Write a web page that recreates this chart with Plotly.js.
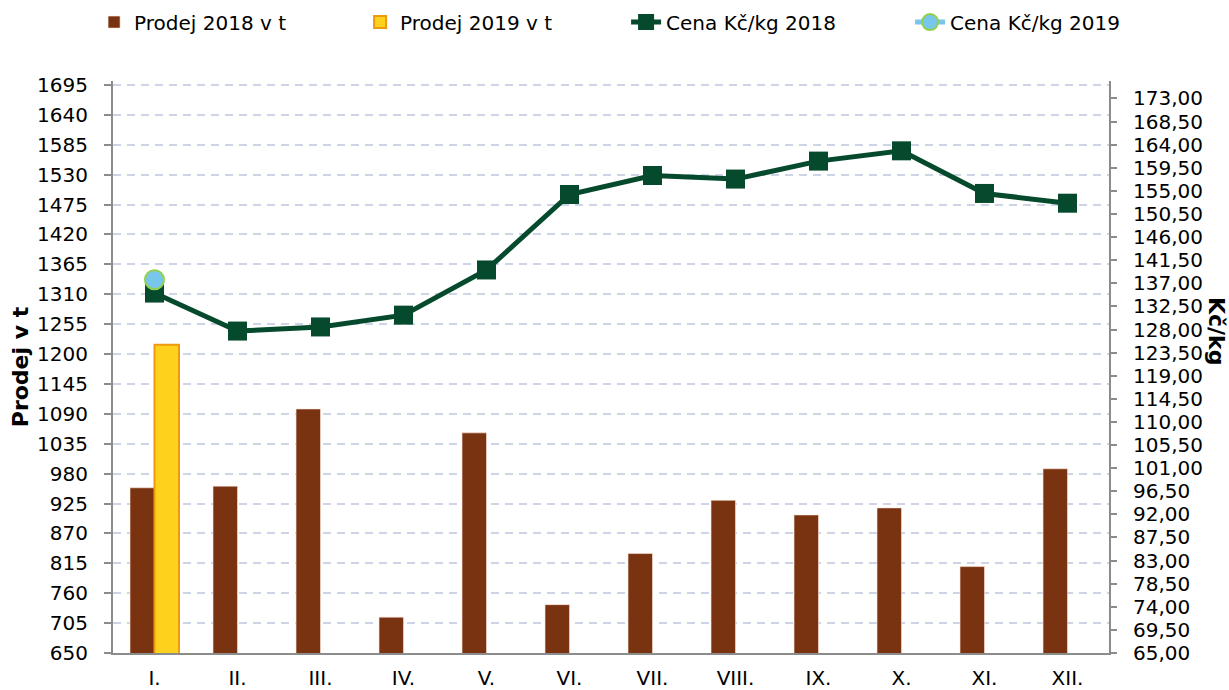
<!DOCTYPE html>
<html>
<head>
<meta charset="utf-8">
<script src="https://cdn.plot.ly/plotly-3.0.1.min.js"></script>
<style>
html,body{margin:0;padding:0;background:#ffffff;}
#chart{width:1229px;height:690px;}
</style>
</head>
<body>
<div id="chart"></div>
<script>
const months = ['I.', 'II.', 'III.', 'IV.', 'V.', 'VI.', 'VII.', 'VIII.', 'IX.', 'X.', 'XI.', 'XII.'];
const prodej2018 = [954, 957, 1099, 716, 1055, 739, 833, 931, 904, 917, 809, 989];
const prodej2019 = [1217, null, null, null, null, null, null, null, null, null, null, null];
const cena2018 = [135.1, 127.7, 128.5, 130.8, 139.6, 154.3, 158.0, 157.3, 160.8, 162.8, 154.5, 152.6];
const cena2019 = [137.7, null, null, null, null, null, null, null, null, null, null, null];
const leftTicks = [650, 705, 760, 815, 870, 925, 980, 1035, 1090, 1145, 1200, 1255, 1310, 1365, 1420, 1475, 1530, 1585, 1640, 1695];
const rightTicks = [65, 69.5, 74, 78.5, 83, 87.5, 92, 96.5, 101, 105.5, 110, 114.5, 119, 123.5, 128, 132.5, 137, 141.5, 146, 150.5, 155, 159.5, 164, 168.5, 173];

const axisGray = '#8c8c8c';

const traces = [
  {
    type: 'bar', name: 'Prodej 2018 v t', x: months, y: prodej2018,
    marker: {color: '#7A3311', line: {color: 'rgba(255,230,220,0.6)', width: 1}},
    legendwidth: 221, hoverinfo: 'x+y'
  },
  {
    type: 'bar', name: 'Prodej 2019 v t', x: months, y: prodej2019,
    marker: {color: '#FED21C', line: {color: '#EE9A10', width: 2}},
    legendwidth: 221, hoverinfo: 'x+y'
  },
  {
    type: 'scatter', mode: 'lines+markers', name: 'Cena Kč/kg 2018', x: months, y: cena2018,
    yaxis: 'y2',
    line: {color: '#064A2E', width: 5},
    marker: {symbol: 'square', size: 19, color: '#064A2E'},
    legendwidth: 239, hoverinfo: 'x+y'
  },
  {
    type: 'scatter', mode: 'lines+markers', name: 'Cena Kč/kg 2019', x: months, y: cena2019,
    yaxis: 'y2',
    line: {color: '#78C6EC', width: 5},
    marker: {symbol: 'circle', size: 19, color: '#78C6EC', line: {color: '#92D050', width: 2}},
    legendwidth: 190, hoverinfo: 'x+y'
  }
];

const layout = {
  width: 1229, height: 690,
  margin: {l: 113, r: 120, t: 81, b: 37, pad: 0, autoexpand: false},
  paper_bgcolor: '#ffffff', plot_bgcolor: '#ffffff',
  font: {family: 'DejaVu Sans, Verdana, sans-serif', size: 20, color: '#000000'},
  separators: ', ',
  barmode: 'group', bargap: 0.41, bargroupgap: 0,
  showlegend: true,
  legend: {
    orientation: 'h', x: -0.019, xanchor: 'left', y: 1.103, yanchor: 'middle',
    font: {size: 20}, bgcolor: 'rgba(0,0,0,0)', traceorder: 'normal'
  },
  xaxis: {
    type: 'category', range: [-0.5, 11.5], autorange: false,
    showline: true, linecolor: axisGray, linewidth: 2,
    ticks: '', showgrid: false, zeroline: false, tickfont: {size: 20},
    ticklabelstandoff: 6
  },
  yaxis: {
    range: [650, 1702.4], autorange: false, tickvals: leftTicks, ticks: 'outside', ticklen: 7, tickwidth: 2,
    tickcolor: axisGray, showline: true, linewidth: 2, linecolor: axisGray,
    showgrid: true, gridcolor: '#CDD4E6', gridwidth: 2, griddash: '8px,6px',
    zeroline: false, ticklabelstandoff: 12, tickfont: {size: 20},
    title: {text: '<b>Prodej v t</b>', font: {size: 22}, standoff: 2}
  },
  yaxis2: {
    overlaying: 'y', side: 'right', range: [65, 176.4], autorange: false, tickvals: rightTicks, tickformat: '.2f',
    ticks: 'outside', ticklen: 6, tickwidth: 2, tickcolor: axisGray,
    showline: true, linewidth: 2, linecolor: axisGray,
    showgrid: false, zeroline: false, ticklabelstandoff: 12, tickfont: {size: 20}
  },
  annotations: [
    {text: '<b>Kč/kg</b>', xref: 'paper', yref: 'paper', x: 1.122, y: 0.563,
     textangle: 90, showarrow: false, font: {size: 22}}
  ]
};

Plotly.newPlot('chart', traces, layout, {displayModeBar: false, staticPlot: true});
</script>
</body>
</html>
